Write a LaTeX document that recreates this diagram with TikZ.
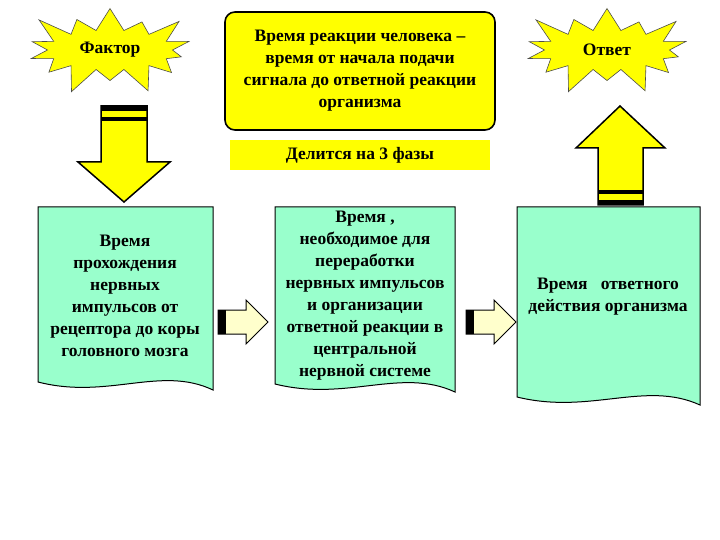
\documentclass[tikz,border=0pt]{standalone}
\usepackage{fontspec}
\setmainfont{Liberation Serif}
\usetikzlibrary{shapes.misc,shapes.symbols}
\definecolor{aq}{HTML}{99FFCC}
\definecolor{yl}{HTML}{FFFF00}
\definecolor{pale}{HTML}{FFFFCC}
\begin{document}
\begin{tikzpicture}[x=1pt,y=-1pt,
 txt/.style={font=\bfseries\fontsize{17.5}{22}\selectfont,align=center,inner sep=0pt},
 star/.style={starburst,starburst points=14,starburst point height=30pt,fill=yl,draw=black!70,line width=0.6pt,minimum width=185pt,minimum height=100pt,inner sep=0pt}]
\useasboundingbox (0,0) rectangle (720,540);
% stars
\node[star] (f) at (110,50) {};
\node[txt] at (f) {Фактор};
\node[star] (o) at (607,50) {};
\node[txt] at (o) {Ответ};
% top box
\node[draw,line width=1.6pt,fill=yl,rounded corners=10pt,minimum width=270pt,minimum height=118pt,txt] (def) at (360,71) {Время реакции человека –\\время от начала подачи\\сигнала до ответной реакции\\организма};
\node[fill=yl,minimum width=260pt,minimum height=30pt,txt] (ph) at (360,155) {Делится на 3 фазы};
% down arrow
\draw[fill=yl,line width=1.5pt] (101,106) -- (147,106) -- (147,162) -- (170,162) -- (124,202) -- (78,162) -- (101,162) -- cycle;
\fill (101,106) rectangle (147,111);
\fill (101,117) rectangle (147,121);
% up arrow
\draw[fill=yl,line width=1.5pt] (598,205) -- (643,205) -- (643,148) -- (665,148) -- (620,106) -- (576,148) -- (598,148) -- cycle;
\fill (598,205) rectangle (643,200);
\fill (598,194) rectangle (643,190);
% documents
\newcommand{\docbox}[5]{% x1 x2 y1 y2 name
 \draw[fill=aq,line width=1pt] (#1,#3) -- (#2,#3) -- (#2,#4) .. controls ({#2-0.3*(#2-#1)},{#4-25}) and ({#1+0.4*(#2-#1)},{#4+10}) .. (#1,{#4-8}) -- cycle;
 \coordinate (#5) at ({(#1+#2)/2},{(#3+#4)/2});}
\docbox{38}{213}{207}{390}{d1}
\docbox{275}{455}{207}{392}{d2}
\docbox{517}{700}{207}{405}{d3}
\node[txt] at (125,296) {Время\\прохождения\\нервных\\импульсов от\\рецептора до коры\\головного мозга};
\node[txt] at (365,296) {Время ,\\необходимое для\\переработки\\нервных импульсов\\и организации\\ответной реакции в\\центральной\\нервной системе};
\node[txt] at (608,297) {Время~~ ответного\\действия организма};
% small arrows
\newcommand{\sarr}[1]{%
 \draw[fill=pale,line width=1pt] (#1,310) -- (#1+28,310) -- (#1+28,300) -- (#1+50,322) -- (#1+28,344) -- (#1+28,334) -- (#1,334) -- cycle;
 \fill (#1,310) rectangle (#1+8,334);}
\sarr{218}
\sarr{466}
\end{tikzpicture}
\end{document}
